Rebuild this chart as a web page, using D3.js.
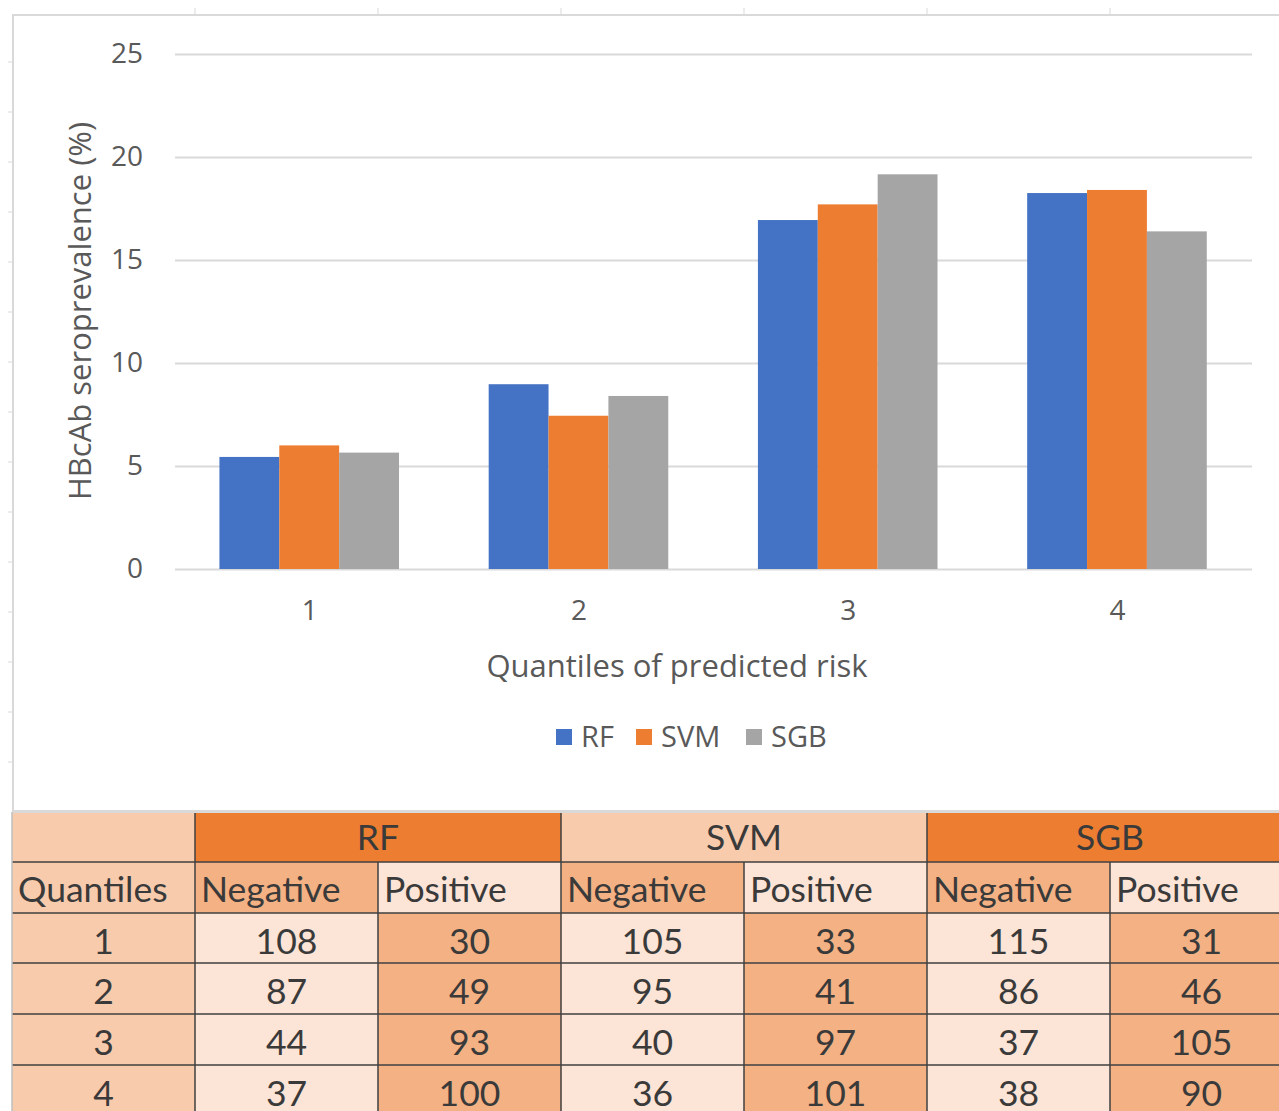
<!DOCTYPE html>
<html>
<head>
<meta charset="utf-8">
<script src="https://cdn.jsdelivr.net/npm/d3@7"></script>
<style>
  html, body { margin: 0; padding: 0; background: #ffffff; }
  svg { display: block; }
</style>
</head>
<body>
<svg id="chart" width="1279" height="1111"></svg>
<script>
// ---------- data ----------
const categories = ["1", "2", "3", "4"];
const seriesNames = ["RF", "SVM", "SGB"];
const rfValues  = [5.44, 8.97, 16.94, 18.25];
const svmValues = [6.00, 7.44, 17.70, 18.40];
const sgbValues = [5.65, 8.40, 19.16, 16.39];
const yTicks = [0, 5, 10, 15, 20, 25];
const seriesColors = ["#4472c4", "#ed7d31", "#a5a5a5"];

const tableQuantiles = ["1", "2", "3", "4"];
const rfNegative  = [108, 87, 44, 37];
const rfPositive  = [30, 49, 93, 100];
const svmNegative = [105, 95, 40, 36];
const svmPositive = [33, 41, 97, 101];
const sgbNegative = [115, 86, 37, 38];
const sgbPositive = [31, 46, 105, 90];

const seriesValues = [rfValues, svmValues, sgbValues];

const svg = d3.select("#chart");
const textColor = "#595959";
const font = "'Open Sans', 'Noto Sans', sans-serif";

// ---------- background spreadsheet marks ----------
const colEdges = [195, 378, 561, 744, 927, 1110];
svg.selectAll(".topTick").data(colEdges).enter().append("line")
  .attr("x1", d => d).attr("x2", d => d).attr("y1", 8).attr("y2", 15)
  .attr("stroke", "#d9d9d9").attr("stroke-width", 1);
svg.selectAll(".leftTick").data(d3.range(62, 800, 50)).enter().append("line")
  .attr("x1", 8).attr("x2", 12).attr("y1", d => d).attr("y2", d => d)
  .attr("stroke", "#d9d9d9").attr("stroke-width", 1);

// chart area frame
svg.append("rect").attr("x", 13).attr("y", 15).attr("width", 1290).attr("height", 796)
  .attr("fill", "#ffffff").attr("stroke", "#d9d9d9").attr("stroke-width", 2);

// ---------- scales ----------
const plotLeft = 175, plotRight = 1252, plotTop = 54, plotBottom = 569;
const y = d3.scaleLinear().domain([0, 25]).range([plotBottom, plotTop]);
const x0 = d3.scaleBand().domain(categories).range([plotLeft, plotRight]).paddingInner(0).paddingOuter(0);
const bw = x0.bandwidth();
const x1 = d3.scaleBand().domain(seriesNames).range([bw * 0.165, bw * 0.832]).padding(0);

// gridlines + y labels
const yAxis = d3.axisLeft(y).tickValues(yTicks).tickSize(-(plotRight - plotLeft)).tickPadding(32);
const gy = svg.append("g").attr("transform", `translate(${plotLeft},0)`).call(yAxis);
gy.select(".domain").remove();
gy.selectAll(".tick line").attr("stroke", "#d9d9d9").attr("stroke-width", 2);
gy.selectAll(".tick text").attr("fill", textColor).style("font-family", font).style("font-size", "28px");

// bars
const groups = svg.append("g").selectAll("g").data(categories).enter().append("g")
  .attr("transform", d => `translate(${x0(d)},0)`);
groups.selectAll("rect").data((d, i) => seriesNames.map((s, j) => ({ s, v: seriesValues[j][i], c: seriesColors[j] })))
  .enter().append("rect")
  .attr("x", d => x1(d.s)).attr("width", x1.bandwidth())
  .attr("y", d => y(d.v)).attr("height", d => y(0) - y(d.v))
  .attr("fill", d => d.c);

// x axis labels
const xAxis = d3.axisBottom(x0).tickSize(0).tickPadding(31);
const gx = svg.append("g").attr("transform", `translate(0,${plotBottom})`).call(xAxis);
gx.select(".domain").remove();
gx.selectAll(".tick text").attr("fill", textColor).style("font-family", font).style("font-size", "28px");

// axis titles
svg.append("text").attr("transform", "translate(91,311) rotate(-90)")
  .attr("text-anchor", "middle").attr("fill", textColor)
  .style("font-family", font).style("font-size", "31px").text("HBcAb seroprevalence (%)");
svg.append("text").attr("x", 677).attr("y", 677)
  .attr("text-anchor", "middle").attr("fill", textColor)
  .style("font-family", font).style("font-size", "31px").text("Quantiles of predicted risk");

// legend
const legendX = [556, 636, 746];
const lg = svg.append("g").selectAll("g").data(seriesNames).enter().append("g")
  .attr("transform", (d, i) => `translate(${legendX[i]},729)`);
lg.append("rect").attr("width", 16).attr("height", 16).attr("fill", (d, i) => seriesColors[i]);
lg.append("text").attr("x", 25).attr("y", 18).attr("fill", textColor)
  .style("font-family", font).style("font-size", "29px").text(d => d);

// ---------- table ----------
const tFont = "Lato, 'Open Sans', sans-serif";
const tText = "#3a3a3a";
const tSize = "35.5px";
const cPeach = "#f8cbad", cOrange = "#ed7d31", cMid = "#f4b183", cLight = "#fce4d6";
const colX = [12, 195, 378, 561, 744, 927, 1110, 1293];
const rowY = [812, 862, 913, 963, 1014, 1065, 1116];

const tg = svg.append("g");
// header row 1
const header1 = [
  { x0: colX[0], x1: colX[1], fill: cPeach, text: "" },
  { x0: colX[1], x1: colX[3], fill: cOrange, text: "RF" },
  { x0: colX[3], x1: colX[5], fill: cPeach, text: "SVM" },
  { x0: colX[5], x1: colX[7], fill: cOrange, text: "SGB" }
];
tg.selectAll(".h1").data(header1).enter().append("rect")
  .attr("x", d => d.x0).attr("y", rowY[0]).attr("width", d => d.x1 - d.x0).attr("height", rowY[1] - rowY[0])
  .attr("fill", d => d.fill);
tg.selectAll(".h1t").data(header1).enter().append("text")
  .attr("x", d => (d.x0 + d.x1) / 2).attr("y", rowY[0] + 38)
  .attr("text-anchor", "middle").attr("fill", tText)
  .style("font-family", tFont).style("font-size", tSize).text(d => d.text);

// header row 2
const header2 = ["Quantiles", "Negative", "Positive", "Negative", "Positive", "Negative", "Positive"];
const header2Fill = [cPeach, cMid, cLight, cMid, cLight, cMid, cLight];
tg.selectAll(".h2").data(header2).enter().append("rect")
  .attr("x", (d, i) => colX[i]).attr("y", rowY[1]).attr("width", (d, i) => colX[i + 1] - colX[i])
  .attr("height", rowY[2] - rowY[1]).attr("fill", (d, i) => header2Fill[i]);
tg.selectAll(".h2t").data(header2).enter().append("text")
  .attr("x", (d, i) => colX[i] + 6).attr("y", rowY[1] + 40)
  .attr("fill", tText).style("font-family", tFont).style("font-size", tSize).text(d => d);

// data rows
const tableCols = [tableQuantiles, rfNegative, rfPositive, svmNegative, svmPositive, sgbNegative, sgbPositive];
const dataFill = [cPeach, cLight, cMid, cLight, cMid, cLight, cMid];
tableQuantiles.forEach((q, r) => {
  tableCols.forEach((col, c) => {
    tg.append("rect").attr("x", colX[c]).attr("y", rowY[r + 2])
      .attr("width", colX[c + 1] - colX[c]).attr("height", rowY[r + 3] - rowY[r + 2])
      .attr("fill", dataFill[c]);
    tg.append("text").attr("x", (colX[c] + colX[c + 1]) / 2).attr("y", rowY[r + 2] + 41)
      .attr("text-anchor", "middle").attr("fill", tText)
      .style("font-family", tFont).style("font-size", tSize).text(col[r]);
  });
});

// table borders
const lineCol = "#404040";
rowY.slice(1, 6).forEach(yy => {
  tg.append("line").attr("x1", colX[0]).attr("x2", 1279).attr("y1", yy).attr("y2", yy)
    .attr("stroke", lineCol).attr("stroke-width", 1.5);
});
[colX[1], colX[3], colX[5]].forEach(xx => {
  tg.append("line").attr("x1", xx).attr("x2", xx).attr("y1", rowY[0]).attr("y2", rowY[1])
    .attr("stroke", lineCol).attr("stroke-width", 1.5);
});
colX.slice(1, 7).forEach(xx => {
  tg.append("line").attr("x1", xx).attr("x2", xx).attr("y1", rowY[1]).attr("y2", 1111)
    .attr("stroke", lineCol).attr("stroke-width", 1.5);
});
tg.append("line").attr("x1", colX[0]).attr("x2", 1279).attr("y1", rowY[0]).attr("y2", rowY[0])
  .attr("stroke", "#d9d9d9").attr("stroke-width", 2);
tg.append("line").attr("x1", colX[0]).attr("x2", colX[0]).attr("y1", rowY[0]).attr("y2", 1111)
  .attr("stroke", "#bfbfbf").attr("stroke-width", 1.5);
</script>
</body>
</html>
